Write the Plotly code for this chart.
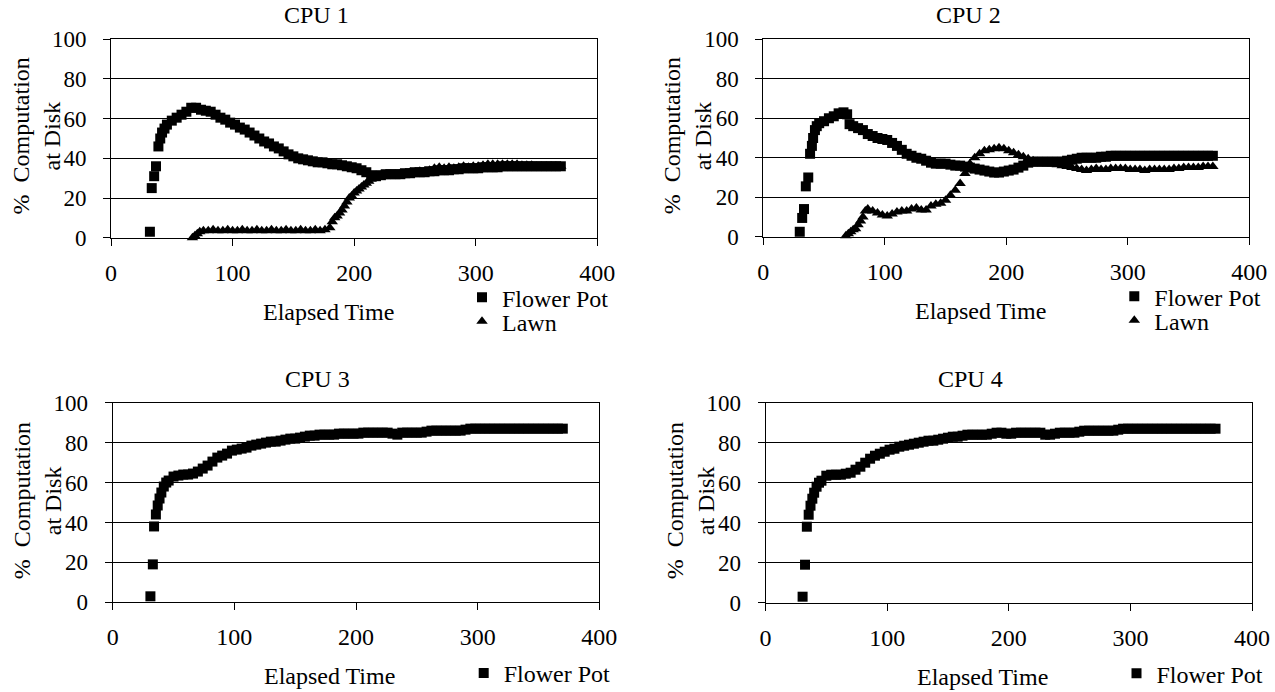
import plotly.graph_objects as go

W, H = 1275, 692
FONT = "Liberation Serif"

# ---------------- data ----------------
x_ticks = [0, 100, 200, 300, 400]
y_ticks = [0, 20, 40, 60, 80, 100]
panel_titles = ["CPU 1", "CPU 2", "CPU 3", "CPU 4"]
x_title = "Elapsed Time"
y_title_line1 = "%\u00a0\u00a0Computation"
y_title_line2 = "at Disk"

cpu1_flower_x = [32, 33.5, 35.5, 37, 39, 40.5, 42, 44,
                 46, 50, 54, 58, 62, 66, 70, 74, 78, 82, 86, 90, 94, 98, 102, 106, 110, 114, 118, 122,
                 126, 130, 134, 138, 142, 146, 150, 154, 158, 162, 166, 170, 174, 178, 182, 186, 190,
                 194, 198, 202, 206, 210, 214, 218, 222, 226, 230, 234, 238, 242, 246, 250, 254, 258,
                 262, 266, 270, 274, 278, 282, 286, 290, 294, 298, 302, 306, 310, 314, 318, 322, 326,
                 330, 334, 338, 342, 346, 350, 354, 358, 362, 366, 370]
cpu1_flower_y = [3, 25, 31, 36, 46, 50, 53, 55,
                 57, 59, 60.5, 62, 63.5, 65.5, 65.5, 64.5, 64, 63.5, 62, 60.5, 59.5, 58, 57, 55.5, 54.5, 53, 51.5, 50,
                 48.5, 47.5, 46, 45, 43.5, 42, 41, 40, 39.5, 39, 38.5, 38, 38, 37.5, 37, 37, 36.5,
                 36, 35.5, 35, 34, 33, 31.5, 31, 31.5, 32, 32, 32, 32, 32.5, 32.5, 33, 33, 33,
                 33.5, 33.5, 34, 34, 34, 34.5, 34.5, 35, 35, 35, 35, 35.5, 35.5, 35.5, 35.5, 36, 36,
                 36, 36, 36, 36, 36, 36, 36, 36, 36, 36, 36]

cpu1_lawn_x = [67, 69, 71, 73, 76,
               80, 84, 88, 92, 96, 100, 104, 108, 112, 116, 120, 124, 128, 132, 136, 140, 144, 148,
               152, 156, 160, 164, 168, 172, 176,
               180, 182, 184, 186, 188, 190, 192, 194, 196, 198, 200, 202, 204, 206, 208, 210, 212,
               214, 216, 218,
               222, 226, 230, 234, 238, 242, 246, 250, 254, 258, 262, 266, 270, 274, 278, 282, 286,
               290, 294, 298, 302, 306, 310, 314, 318, 322, 326, 330, 334, 338, 342, 346, 350, 354,
               358, 362, 366, 370]
cpu1_lawn_y = [0, 1, 2, 3, 3.5,
               3.5, 4, 3.5, 3.5, 4, 3.5, 3.5, 4, 3.5, 3.5, 4, 3.5, 3.5, 4, 3.5, 3.5, 4, 3.5,
               3.5, 4, 3.5, 3.5, 4, 3.5, 4,
               5, 8, 10, 11, 12.5, 14, 16, 18, 20, 21, 22.5, 23.5, 24.5, 25.5, 26.5, 27.5, 28.5,
               29.5, 30.5, 31,
               31.5, 32, 32, 32, 32.5, 32.5, 33, 33, 33.5, 33.5, 34, 35, 35.5, 35, 35.5, 35, 35.5,
               36, 35.5, 36, 36, 36.5, 37, 37, 37, 37, 37, 37, 37, 36.5, 36.5, 36.5, 36, 36,
               36, 36, 36, 36]

cpu2_flower_x = [30, 32, 33.5, 35, 37, 38.5, 40, 41, 42.5, 44,
                 46, 50, 54, 58, 62, 66, 69, 71,
                 74, 78, 82, 86, 90, 94, 98, 102, 106, 110, 114, 118, 122, 126, 130, 134, 138, 142,
                 146, 150, 154, 158, 162, 166, 170, 174, 178, 182, 186, 190, 194, 198, 202, 206, 210,
                 214, 218, 222, 226, 230, 234, 238, 242, 246, 250, 254, 258, 262, 266, 270, 274, 278,
                 282, 286, 290, 294, 298, 302, 306, 310, 314, 318, 322, 326, 330, 334, 338, 342, 346,
                 350, 354, 358, 362, 366, 370]
cpu2_flower_y = [2.5, 9.5, 14, 25.5, 30, 42, 46, 50, 54, 56,
                 57.5, 58.5, 60, 61, 62.5, 63, 62, 57,
                 56, 55, 54, 52, 51, 50, 49.5, 49, 47.5, 46, 44, 42, 41, 40, 39.5, 38.5, 37.5, 37,
                 37, 37, 36.5, 36, 36, 35.5, 35, 34.5, 34, 33.5, 33, 32.5, 32.5, 33, 33.5, 34, 35,
                 36, 37.5, 38, 38, 38, 38, 38, 38, 38, 38.5, 39, 39.5, 40, 40, 40, 40, 40.5,
                 40.5, 41, 41, 41, 41, 41, 41, 41, 41, 41, 41, 41, 41, 41, 41, 41, 41,
                 41, 41, 41, 41, 41, 41]

cpu2_lawn_x = [68, 70, 72, 74, 76, 78, 80, 82, 84, 86,
               90, 94, 98, 102, 106, 110, 114, 118, 122, 126, 130, 134, 138, 142, 146, 150, 154,
               158, 162, 166, 170, 174, 178, 182, 186, 190, 194, 198, 202, 206, 210, 214, 218, 222,
               226, 230, 234, 238, 242, 246, 250, 254, 258, 262, 266, 270, 274, 278, 282, 286, 290,
               294, 298, 302, 306, 310, 314, 318, 322, 326, 330, 334, 338, 342, 346, 350, 354, 358,
               362, 366, 370]
cpu2_lawn_y = [0.5, 1.5, 2.5, 3.5, 4, 6, 8, 10, 13, 14,
               13, 12, 11, 10.5, 11.5, 12.5, 13, 13, 14, 14.5, 13.5, 13.5, 15.5, 16.5, 17, 18.5, 21,
               23.5, 27, 32, 37, 40, 42, 43.5, 44, 44.5, 45, 44.5, 43.5, 42.5, 41.5, 40.5, 39.5, 38.5,
               38, 37.5, 37, 37, 36.5, 36, 35.5, 35, 34.5, 34, 33.5, 34, 34.5, 34, 34, 34.5, 34.5,
               34.5, 34.5, 34, 34, 34, 33.5, 34, 34, 34, 34, 34, 34.5, 34.5, 35, 35, 35, 35,
               35.5, 35.5, 35.5]

cpu3_flower_x = [31, 33, 34, 35.5, 37, 38.5, 40, 42, 44, 46,
                 50, 54, 58, 62, 66, 70, 74, 78, 82, 86, 90, 94, 98, 102, 106, 110, 114, 118, 122,
                 126, 130, 134, 138, 142, 146, 150, 154, 158, 162, 166, 170, 174, 178, 182, 186, 190,
                 194, 198, 202, 206, 210, 214, 218, 222, 226, 230, 234, 238, 242, 246, 250, 254, 258,
                 262, 266, 270, 274, 278, 282, 286, 290, 294, 298, 302, 306, 310, 314, 318, 322, 326,
                 330, 334, 338, 342, 346, 350, 354, 358, 362, 366, 370]
cpu3_flower_y = [3, 19, 38, 44, 48.5, 52, 55, 58, 60, 61,
                 63, 63.5, 64, 64, 64.5, 65.5, 67, 68.5, 70.5, 72.5, 73.5, 74.5, 76, 76.5, 77, 77.5, 78.5, 79, 79.5,
                 80, 80.5, 80.5, 81, 81.5, 82, 82, 82.5, 83, 83.5, 83.5, 84, 84, 84, 84, 84.5, 84.5,
                 84.5, 84.5, 84.5, 85, 85, 85, 85, 85, 85, 84.5, 84, 85, 85, 85, 85, 85, 85.5,
                 86, 86, 86, 86, 86, 86, 86, 86.5, 87, 87, 87, 87, 87, 87, 87, 87, 87,
                 87, 87, 87, 87, 87, 87, 87, 87, 87, 87, 87]

cpu4_flower_x = [30.5, 32.5, 34, 35.5, 37, 38.5, 40, 42, 44, 46,
                 50, 54, 58, 62, 66, 70, 74, 78, 82, 86, 90, 94, 98, 102, 106, 110, 114, 118, 122,
                 126, 130, 134, 138, 142, 146, 150, 154, 158, 162, 166, 170, 174, 178, 182, 186, 190,
                 194, 198, 202, 206, 210, 214, 218, 222, 226, 230, 234, 238, 242, 246, 250, 254, 258,
                 262, 266, 270, 274, 278, 282, 286, 290, 294, 298, 302, 306, 310, 314, 318, 322, 326,
                 330, 334, 338, 342, 346, 350, 354, 358, 362, 366, 370]
cpu4_flower_y = [3, 19, 38, 44, 48.5, 52, 55, 58, 60, 61,
                 63.5, 64, 64, 64, 64.5, 65, 66.5, 68, 70, 72, 73.5, 74.5, 75.5, 76.5, 77, 78, 78.5, 79, 79.5,
                 80, 80.5, 81, 81, 81.5, 82, 82.5, 83, 83, 83.5, 84, 84, 84, 84, 84, 84.5, 85,
                 85, 84.5, 84.5, 85, 85, 85, 85, 85, 85, 84, 84, 84.5, 85, 85, 85, 85, 85.5,
                 86, 86, 86, 86, 86, 86, 86, 86.5, 87, 87, 87, 87, 87, 87, 87, 87, 87,
                 87, 87, 87, 87, 87, 87, 87, 87, 87, 87, 87]

for a, b in [(cpu1_flower_x, cpu1_flower_y), (cpu1_lawn_x, cpu1_lawn_y),
             (cpu2_flower_x, cpu2_flower_y), (cpu2_lawn_x, cpu2_lawn_y),
             (cpu3_flower_x, cpu3_flower_y), (cpu4_flower_x, cpu4_flower_y)]:
    assert len(a) == len(b), (len(a), len(b))

# ---------------- layout geometry (window pixels) ----------------
panels = [
    dict(x0=111.0, x1=597.3, yt=39.3, yb=237.7,
         series=[("Flower Pot", cpu1_flower_x, cpu1_flower_y, "square"),
                 ("Lawn", cpu1_lawn_x, cpu1_lawn_y, "triangle-up")]),
    dict(x0=763.3, x1=1249.3, yt=39.3, yb=236.7,
         series=[("Flower Pot", cpu2_flower_x, cpu2_flower_y, "square"),
                 ("Lawn", cpu2_lawn_x, cpu2_lawn_y, "triangle-up")]),
    dict(x0=112.7, x1=599.3, yt=402.7, yb=602.3,
         series=[("Flower Pot", cpu3_flower_x, cpu3_flower_y, "square")]),
    dict(x0=765.5, x1=1252.0, yt=402.7, yb=602.7,
         series=[("Flower Pot", cpu4_flower_x, cpu4_flower_y, "square")]),
]

fig = go.Figure()
layout = dict(
    width=W, height=H, autosize=False,
    margin=dict(l=0, r=0, t=0, b=0, pad=0, autoexpand=False),
    paper_bgcolor="white", plot_bgcolor="white",
    showlegend=True,
    font=dict(family=FONT, size=24, color="black"),
)
annotations = []
legend_count = 0

def px(xp):
    return xp / W

def py(yp):
    return 1 - yp / H

for i, p in enumerate(panels):
    sfx = "" if i == 0 else str(i + 1)
    layout["xaxis" + sfx] = dict(
        domain=[px(p["x0"]), px(p["x1"])], anchor="y" + sfx, range=[0, 400],
        tickvals=x_ticks, ticks="outside", ticklen=7, tickwidth=1, tickcolor="black",
        showline=True, mirror=True, linecolor="black", linewidth=1,
        showgrid=False, zeroline=False,
        tickfont=dict(family=FONT, size=24, color="black"), ticklabelstandoff=6,
        automargin=False, fixedrange=True)
    layout["yaxis" + sfx] = dict(
        domain=[py(p["yb"]), py(p["yt"])], anchor="x" + sfx, range=[0, 100],
        tickvals=y_ticks, ticks="outside", ticklen=7, tickwidth=1, tickcolor="black",
        showline=True, mirror=True, linecolor="black", linewidth=1,
        showgrid=True, gridcolor="black", gridwidth=1, zeroline=False,
        tickfont=dict(family=FONT, size=23, color="black"), ticklabelstandoff=12,
        automargin=False, fixedrange=True)

    ymid = (p["yt"] + p["yb"]) / 2
    annotations += [
        dict(text=panel_titles[i], x=px(p["x0"] + 205), y=py(p["yt"] - 24)),
        dict(text=y_title_line1, x=px(p["x0"] - 91), y=py(ymid - 2), textangle=-90),
        dict(text=y_title_line2, x=px(p["x0"] - 60), y=py(ymid - 2), textangle=-90),
        dict(text=x_title, x=px(p["x0"] + 217), y=py(p["yb"] + 74)),
    ]

    n = len(p["series"])
    for j, (name, xs, ys, sym) in enumerate(p["series"]):
        legend_count += 1
        lk = "legend" if legend_count == 1 else "legend%d" % legend_count
        fig.add_trace(go.Scatter(
            x=xs, y=ys, mode="markers", name=name,
            marker=dict(symbol=sym, size=10, color="black", line=dict(width=0)),
            xaxis="x" + sfx, yaxis="y" + sfx, legend=lk, showlegend=True,
            cliponaxis=False, hoverinfo="x+y"))
        if n == 2:
            ly = p["yb"] + (60 if j == 0 else 84)
        else:
            ly = p["yb"] + 71
        layout[lk] = dict(
            x=px(p["x0"] + 391 - 40), y=py(ly), xanchor="left", yanchor="middle",
            bgcolor="rgba(0,0,0,0)", borderwidth=0, itemwidth=30,
            font=dict(family=FONT, size=24, color="black"), itemclick=False, itemdoubleclick=False)

for a in annotations:
    a.update(xref="paper", yref="paper", showarrow=False, xanchor="center", yanchor="middle",
             font=dict(family=FONT, size=24, color="black"))
layout["annotations"] = annotations

fig.update_layout(**layout)
# the page's default 8px body margin would push the 1275x692 figure off the window
fig.write_html("out.html", config=dict(displayModeBar=False),
               post_script="document.body.style.margin='0';document.body.style.overflow='hidden';")
